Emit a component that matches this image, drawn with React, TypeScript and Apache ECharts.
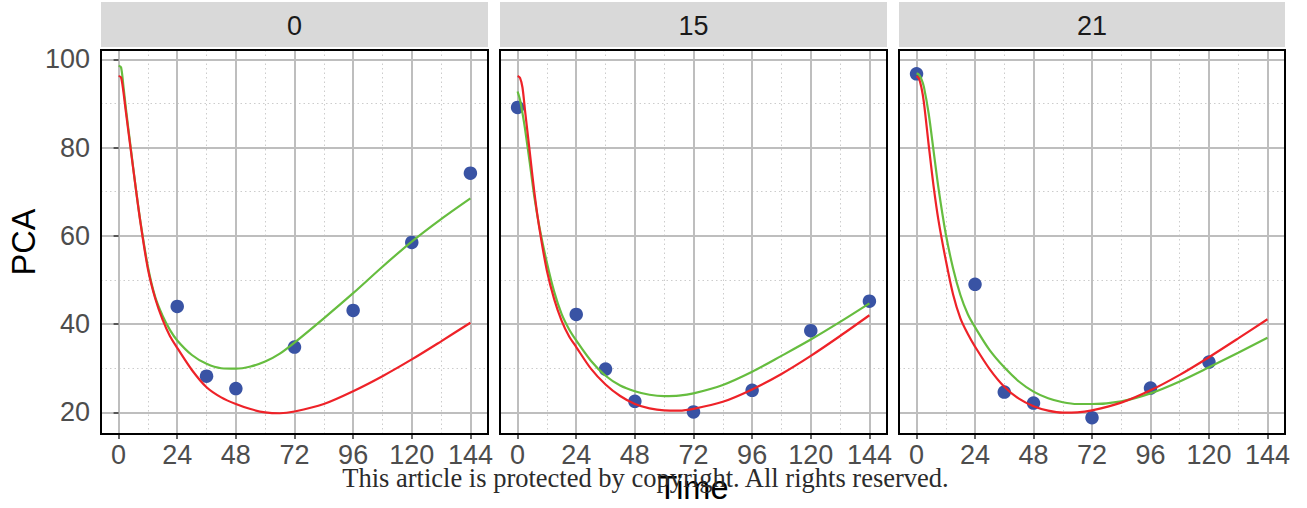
import React, { useEffect, useRef } from "react";
import * as echarts from "echarts";

// Facet labels (dose group)
const PANELS = ["0", "15", "21"];

// Axis ticks
const X_TICKS = [0, 24, 48, 72, 96, 120, 144];
const X_MINOR = [0, 12, 24, 36, 48, 60, 72, 84, 96, 108, 120, 132, 144];
const Y_TICKS = [20, 40, 60, 80, 100];
const Y_MINOR = [20, 30, 40, 50, 60, 70, 80, 90, 100];

// Observed PCA values per panel
const OBS_TIME_0 = [24, 36, 48, 72, 96, 120, 144];
const OBS_PCA_0 = [44.0, 28.2, 25.4, 34.8, 43.1, 58.5, 74.2];
const OBS_TIME_15 = [0, 24, 36, 48, 72, 96, 120, 144];
const OBS_PCA_15 = [89.1, 42.2, 29.8, 22.5, 20.1, 25.0, 38.5, 45.2];
const OBS_TIME_21 = [0, 24, 36, 48, 72, 96, 120];
const OBS_PCA_21 = [96.7, 49.0, 24.6, 22.1, 18.8, 25.5, 31.4];

// Model predictions, sampled on a common time grid
const CURVE_TIME = [0, 1, 2, 3, 5, 7, 9, 12, 15, 18, 21, 24, 30, 36, 42, 48, 54, 60, 66, 72, 84, 96, 108, 120, 132, 144];
const GREEN_0 = [98.5, 98.2, 93.8, 88.8, 79.8, 71.0, 63.0, 53.0, 46.1, 41.9, 38.7, 36.3, 33.0, 31.0, 30.0, 29.9, 30.4, 31.5, 33.3, 35.8, 41.3, 47.0, 53.0, 58.7, 63.8, 68.5];
const RED_0 = [96.2, 95.9, 92.5, 88.0, 79.4, 70.9, 62.8, 52.5, 45.8, 41.0, 37.3, 34.6, 29.6, 25.7, 23.4, 21.9, 20.75, 20.0, 19.8, 20.2, 21.9, 24.8, 28.2, 32.0, 36.1, 40.3];
const GREEN_15 = [92.7, 90.8, 87.8, 84.4, 76.5, 68.3, 61.8, 53.9, 47.3, 42.3, 38.9, 36.3, 31.7, 28.3, 26.1, 24.8, 24.0, 23.7, 23.8, 24.3, 26.2, 29.2, 32.8, 36.5, 40.5, 44.7];
const RED_15 = [96.2, 95.8, 93.6, 88.6, 78.9, 69.3, 61.4, 52.1, 45.6, 40.8, 37.3, 34.8, 29.9, 26.3, 23.7, 21.9, 20.9, 20.45, 20.4, 20.8, 22.4, 25.2, 28.7, 32.8, 37.3, 42.0];
const GREEN_21 = [96.8, 96.5, 95.5, 93.8, 87.6, 79.2, 70.8, 60.4, 52.6, 46.6, 42.3, 39.3, 34.1, 30.2, 27.0, 24.7, 23.2, 22.3, 21.9, 21.9, 22.5, 24.3, 27.0, 30.2, 33.5, 36.9];
const RED_21 = [96.2, 95.6, 93.6, 90.3, 80.5, 71.2, 63.5, 54.5, 46.7, 41.3, 37.8, 34.9, 29.8, 25.8, 23.1, 21.4, 20.4, 19.95, 20.0, 20.45, 22.2, 25.0, 28.5, 32.5, 36.75, 41.1];

const OBS_TIME = [OBS_TIME_0, OBS_TIME_15, OBS_TIME_21];
const OBS_PCA = [OBS_PCA_0, OBS_PCA_15, OBS_PCA_21];
const GREEN = [GREEN_0, GREEN_15, GREEN_21];
const RED = [RED_0, RED_15, RED_21];

const SANS = "'Liberation Sans', Arial, Helvetica, sans-serif";
const SERIF = "'Liberation Serif', 'Times New Roman', serif";

const GRIDS = [
  { left: 101, top: 50, width: 387, height: 384 },
  { left: 500, top: 50, width: 387, height: 384 },
  { left: 899, top: 50, width: 386, height: 384 },
];

const X_MIN = -7.2;
const X_MAX = 151.2;
const Y_MIN = 15.1;
const Y_MAX = 102.1;

const zip = (xs: number[], ys: number[]) => xs.map((x, i) => [x, ys[i]]);

function buildOption() {
  const n = PANELS.length;
  const xAxis: any[] = [];
  const yAxis: any[] = [];
  // major axes: indices 0..n-1
  for (let i = 0; i < n; i++) {
    xAxis.push({
      type: "value",
      gridIndex: i,
      min: X_MIN,
      max: X_MAX,
      interval: 24,
      z: 1,
      axisLine: { show: false },
      axisTick: {
        show: true,
        length: 5,
        customValues: X_TICKS,
        lineStyle: { color: "#333333", width: 1.5 },
      },
      axisLabel: {
        show: true,
        customValues: X_TICKS,
        fontSize: 27,
        fontFamily: SANS,
        color: "#4D4D4D",
        margin: 7,
      },
      splitLine: { show: true, lineStyle: { color: "#BEBEBE", width: 2 } },
    });
    yAxis.push({
      type: "value",
      gridIndex: i,
      min: Y_MIN,
      max: Y_MAX,
      interval: 20,
      z: 1,
      axisLine: { show: false },
      axisTick: {
        show: i === 0,
        length: 5,
        customValues: Y_TICKS,
        lineStyle: { color: "#333333", width: 1.5 },
      },
      axisLabel: {
        show: i === 0,
        customValues: Y_TICKS,
        fontSize: 27,
        fontFamily: SANS,
        color: "#4D4D4D",
        margin: 11,
      },
      splitLine: { show: true, lineStyle: { color: "#BEBEBE", width: 2 } },
    });
  }
  // minor axes: indices n..2n-1, dotted grid only
  for (let i = 0; i < n; i++) {
    xAxis.push({
      type: "value",
      gridIndex: i,
      min: X_MIN,
      max: X_MAX,
      interval: 12,
      z: 0,
      axisLine: { show: false },
      axisTick: { show: false, customValues: X_MINOR },
      axisLabel: { show: false },
      splitLine: { show: true, lineStyle: { color: "#CCCCCC", width: 1, type: [1.5, 3] } },
    });
    yAxis.push({
      type: "value",
      gridIndex: i,
      min: Y_MIN,
      max: Y_MAX,
      interval: 10,
      z: 0,
      axisLine: { show: false },
      axisTick: { show: false, customValues: Y_MINOR },
      axisLabel: { show: false },
      splitLine: { show: true, lineStyle: { color: "#CCCCCC", width: 1, type: [1.5, 3] } },
    });
  }

  const series: any[] = [];
  for (let i = 0; i < n; i++) {
    series.push({
      type: "scatter",
      xAxisIndex: i,
      yAxisIndex: i,
      data: zip(OBS_TIME[i], OBS_PCA[i]),
      symbolSize: 13.5,
      itemStyle: { color: "#3953A4", opacity: 1 },
      z: 3,
    });
    series.push({
      type: "line",
      xAxisIndex: i,
      yAxisIndex: i,
      data: zip(CURVE_TIME, GREEN[i]),
      showSymbol: false,
      smooth: 0.3,
      lineStyle: { color: "#66BD3F", width: 2.2 },
      z: 4,
    });
    series.push({
      type: "line",
      xAxisIndex: i,
      yAxisIndex: i,
      data: zip(CURVE_TIME, RED[i]),
      showSymbol: false,
      smooth: 0.3,
      lineStyle: { color: "#EE2228", width: 2.2 },
      z: 5,
    });
  }

  const graphic: any[] = [];
  GRIDS.forEach((g, i) => {
    graphic.push({
      type: "rect",
      shape: { x: g.left, y: 2, width: g.width, height: 45 },
      style: { fill: "#D9D9D9" },
      z: 1,
    });
    graphic.push({
      type: "text",
      x: g.left + g.width / 2,
      y: 25.5,
      style: {
        text: PANELS[i],
        fontSize: 27,
        fontFamily: SANS,
        fill: "#1A1A1A",
        align: "center",
        verticalAlign: "middle",
      },
      z: 2,
    });
    graphic.push({
      type: "rect",
      shape: { x: g.left, y: g.top, width: g.width, height: g.height },
      style: { fill: "none", stroke: "#000000", lineWidth: 2 },
      z: 100,
    });
  });
  graphic.push({
    type: "text",
    x: 24,
    y: 242,
    rotation: Math.PI / 2,
    style: {
      text: "PCA",
      fontSize: 32.5,
      fontFamily: SANS,
      fill: "#000000",
      align: "center",
      verticalAlign: "middle",
    },
    z: 100,
  });
  graphic.push({
    type: "text",
    x: 693,
    y: 488,
    style: {
      text: "Time",
      fontSize: 32.5,
      fontFamily: SANS,
      fill: "#000000",
      align: "center",
      verticalAlign: "middle",
    },
    z: 100,
  });
  graphic.push({
    type: "text",
    x: 645.5,
    y: 477.5,
    style: {
      text: "This article is protected by copyright. All rights reserved.",
      fontSize: 26.5,
      fontFamily: SERIF,
      fill: "#2B2B2B",
      align: "center",
      verticalAlign: "middle",
    },
    z: 101,
  });

  return {
    animation: false,
    backgroundColor: "#FFFFFF",
    grid: GRIDS.map((g) => ({ ...g, containLabel: false })),
    xAxis,
    yAxis,
    series,
    graphic,
  };
}

export default function App() {
  const ref = useRef<HTMLDivElement>(null);
  useEffect(() => {
    if (!ref.current) return;
    const chart = echarts.init(ref.current, undefined, { renderer: "svg" });
    chart.setOption(buildOption());
    return () => chart.dispose();
  }, []);
  return (
    <div
      ref={ref}
      style={{ position: "absolute", left: 0, top: 0, width: 1307, height: 508, background: "#fff" }}
    />
  );
}
